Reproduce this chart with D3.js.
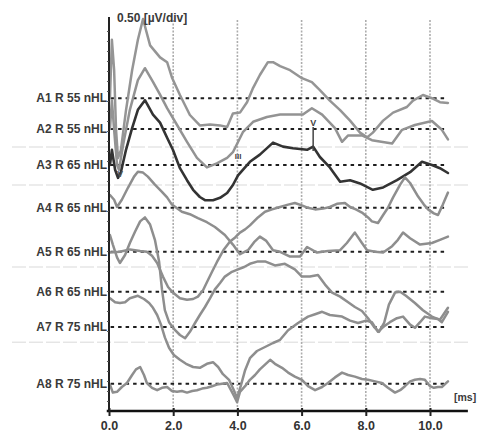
<!DOCTYPE html>
<html><head><meta charset="utf-8">
<script src="https://cdn.jsdelivr.net/npm/d3@7"></script>
<style>html,body{margin:0;padding:0;background:#fff;}svg{display:block;}</style>
</head><body>
<div id="chart"></div>
<script>
// ---- data (time in ms, amplitude in µV relative to each trace baseline) ----
const traceNames = ["A1 R 55 nHL","A2 R 55 nHL","A3 R 65 nHL","A4 R 65 nHL","A5 R 65 nHL","A6 R 65 nHL","A7 R 75 nHL","A8 R 75 nHL"];
const traceOffsets = [3.91, 3.525, 3.075, 2.54, 1.99, 1.49, 1.05, 0.34]; // µV baseline of each trace
const xTicks = [0, 2, 4, 6, 8, 10];
const scaleLabel = "0.50 [µV/div]";
const unitLabel = "[ms]";

const a1Times = [0.03,0.09,0.16,0.22,0.28,0.37,0.53,0.72,0.90,1.06,1.28,1.59,1.81,1.96,2.21,2.52,2.83,3.15,3.46,3.68,3.86,4.08,4.30,4.49,4.70,4.95,5.11,5.33,5.64,6.01,6.32,6.57,6.88,7.20,7.51,7.82,8.04,8.22,8.54,8.85,9.28,9.47,9.78,10.06,10.31,10.56];
const a1Values = [0,0.73,0.35,-0.40,-0.75,-0.65,-0.15,0.35,0.73,0.99,0.66,0.51,0.45,0.26,0.04,-0.21,-0.34,-0.33,-0.34,-0.36,-0.19,-0.18,-0.05,0.13,0.29,0.45,0.45,0.40,0.35,0.25,0.20,0.10,-0.03,-0.15,-0.28,-0.43,-0.49,-0.43,-0.28,-0.18,-0.11,-0.03,0.04,0,-0.05,-0.06];

const a2Times = [0.03,0.09,0.16,0.25,0.31,0.44,0.65,0.90,1.12,1.37,1.59,1.81,2.12,2.43,2.74,3.05,3.36,3.68,3.86,4.17,4.49,4.92,5.33,5.79,6.04,6.32,6.64,7.04,7.26,7.45,7.88,8.19,8.82,9.13,9.53,10.06,10.37,10.56];
const a2Values = [0,0.36,-0.01,-0.45,-0.51,-0.20,0.24,0.61,0.76,0.59,0.43,0.26,0.05,-0.16,-0.36,-0.48,-0.43,-0.36,-0.29,-0.04,0.09,0.15,0.18,0.18,0.18,0.26,0.18,0.01,-0.16,-0.08,-0.08,-0.14,-0.18,-0.01,0.05,0.10,-0.01,-0.13];

const a3Times = [0.03,0.09,0.19,0.28,0.37,0.53,0.72,0.90,1.12,1.37,1.59,1.81,1.99,2.21,2.43,2.62,2.83,2.99,3.24,3.46,3.68,3.86,4.02,4.17,4.39,4.70,5.11,5.42,5.73,6.17,6.36,6.57,6.88,7.20,7.51,7.82,8.22,8.54,8.97,9.38,9.75,10.06,10.31,10.56];
const a3Values = [0,0.19,-0.06,-0.16,-0.09,0.19,0.46,0.69,0.81,0.63,0.53,0.34,0.19,-0.04,-0.19,-0.31,-0.40,-0.44,-0.44,-0.41,-0.35,-0.25,-0.13,-0.06,0.04,0.13,0.28,0.23,0.21,0.19,0.23,0.10,-0.03,-0.21,-0.19,-0.23,-0.31,-0.28,-0.19,-0.09,0.04,0,-0.04,-0.10];

const a4Times = [0.03,0.16,0.25,0.40,0.59,0.78,0.90,1.06,1.21,1.43,1.65,1.81,1.96,2.27,2.52,2.77,3.05,3.30,3.61,3.86,4.08,4.33,4.52,4.70,4.89,5.11,5.33,5.64,5.95,6.17,6.48,6.82,7.20,7.41,7.66,7.88,8.04,8.29,8.54,8.82,9.00,9.16,9.38,9.69,10.06,10.31,10.56];
const a4Values = [0.16,0.10,0.01,0.10,0.25,0.39,0.45,0.44,0.39,0.29,0.20,0.13,0.04,-0.05,-0.08,-0.13,-0.18,-0.24,-0.34,-0.46,-0.58,-0.53,-0.43,-0.36,-0.41,-0.53,-0.55,-0.61,-0.61,-0.49,-0.56,-0.54,-0.53,-0.44,-0.31,-0.44,-0.53,-0.55,-0.56,-0.48,-0.40,-0.31,-0.38,-0.46,-0.44,-0.40,-0.36];

const a5Times = [0.03,0.34,0.65,0.97,1.18,1.34,1.50,1.68,1.84,1.99,2.21,2.43,2.62,2.77,2.93,3.05,3.21,3.36,3.58,3.77,3.93,4.08,4.24,4.39,4.64,4.86,5.08,5.33,5.58,5.79,6.01,6.20,6.42,6.67,6.88,7.10,7.35,7.51,7.69,7.88,8.07,8.19,8.38,8.54,8.69,8.85,9.07,9.22,9.38,9.63,9.81,9.94,10.12,10.25,10.40,10.56];
const a5Values = [-0.01,0,0.03,0.01,0,-0.05,-0.14,-0.31,-0.44,-0.51,-0.58,-0.60,-0.59,-0.56,-0.48,-0.38,-0.25,-0.13,0.03,0.13,0.18,0.24,0.28,0.33,0.43,0.50,0.53,0.56,0.59,0.61,0.58,0.55,0.53,0.54,0.56,0.60,0.61,0.56,0.53,0.49,0.43,0.38,0.36,0.46,0.55,0.68,0.84,0.93,0.86,0.69,0.59,0.53,0.48,0.46,0.59,0.74];

const a6Times = [0.03,0.12,0.25,0.34,0.50,0.65,0.81,0.97,1.12,1.28,1.43,1.56,1.65,1.74,1.87,2.06,2.21,2.37,2.52,2.68,2.83,2.99,3.15,3.30,3.46,3.61,3.83,4.02,4.21,4.39,4.64,4.86,5.17,5.48,5.79,6.01,6.26,6.51,6.73,6.95,7.20,7.45,7.66,7.88,8.07,8.26,8.41,8.57,8.72,8.91,9.07,9.25,9.53,9.78,10.06,10.31,10.56];
const a6Values = [0.71,0.59,0.43,0.36,0.46,0.61,0.75,0.88,0.93,0.84,0.65,0.38,0.03,-0.23,-0.38,-0.48,-0.54,-0.58,-0.50,-0.39,-0.29,-0.19,-0.08,0.03,0.11,0.19,0.25,0.28,0.31,0.35,0.38,0.38,0.33,0.35,0.28,0.19,0.19,0.21,0.09,-0.01,-0.06,-0.13,-0.19,-0.24,-0.33,-0.44,-0.50,-0.39,-0.16,-0.01,0,-0.05,-0.14,-0.23,-0.31,-0.35,-0.20];

const a7Times = [0.03,0.19,0.34,0.50,0.65,0.90,1.09,1.25,1.37,1.50,1.62,1.74,1.87,2.02,2.21,2.40,2.62,2.83,3.05,3.24,3.40,3.55,3.74,3.89,3.99,4.11,4.24,4.39,4.61,4.86,5.11,5.33,5.58,5.89,6.20,6.42,6.64,6.88,7.26,7.51,7.76,8.01,8.19,8.38,8.54,8.75,8.97,9.16,9.38,9.53,9.69,9.84,10.06,10.25,10.37,10.56];
const a7Values = [0.36,0.31,0.30,0.31,0.36,0.39,0.35,0.30,0.24,0.15,0.03,-0.13,-0.26,-0.35,-0.41,-0.46,-0.50,-0.51,-0.46,-0.44,-0.50,-0.59,-0.66,-0.79,-0.89,-0.73,-0.54,-0.39,-0.30,-0.25,-0.20,-0.16,-0.04,0.05,0.13,0.16,0.19,0.15,0.13,0.08,0.05,0.08,0.06,-0.06,0,0.06,0.11,0.13,0.03,-0.01,0.06,0.13,0.11,0.10,0.06,0.19];

const a8Times = [0.03,0.12,0.25,0.40,0.56,0.72,0.84,0.97,1.09,1.18,1.34,1.50,1.65,1.81,1.96,2.12,2.27,2.43,2.59,2.74,2.90,3.05,3.21,3.36,3.52,3.68,3.80,3.89,3.99,4.08,4.24,4.39,4.55,4.70,4.86,5.02,5.17,5.39,5.58,5.79,6.01,6.20,6.42,6.64,6.82,7.04,7.26,7.45,7.66,7.88,8.07,8.29,8.50,8.69,8.91,9.07,9.22,9.38,9.53,9.69,9.84,10.00,10.12,10.25,10.37,10.56];
const a8Values = [-0.01,-0.11,-0.10,-0.04,0.01,0.11,0.18,0.21,0.11,0.01,-0.05,-0.08,-0.05,-0.04,-0.09,-0.10,-0.09,-0.11,-0.09,-0.08,-0.06,-0.05,-0.03,-0.01,0,0.01,-0.08,-0.15,-0.23,-0.10,-0.03,0.05,0.11,0.18,0.24,0.30,0.25,0.20,0.14,0.09,0.05,-0.03,-0.08,-0.04,0.01,0.08,0.14,0.11,0.09,0.06,0.05,0.03,0.01,-0.05,-0.11,-0.08,-0.03,0.03,0.05,0.06,0.05,-0.03,-0.05,-0.04,-0.04,0.03];

const traceTimes = [a1Times,a2Times,a3Times,a4Times,a5Times,a6Times,a7Times,a8Times];
const traceValues = [a1Values,a2Values,a3Values,a4Values,a5Values,a6Values,a7Values,a8Values];
const traceColors = ["#959595","#939393","#333333","#8e8e8e","#8e8e8e","#8e8e8e","#8e8e8e","#8e8e8e"];
const faintLevels = [3.3, 2.825, 1.8, 0.86]; // faint scan lines (µV positions)

// ---- drawing ----
const W = 480, H = 437;
const svg = d3.select("#chart").append("svg").attr("width", W).attr("height", H)
  .style("font-family", "'Liberation Sans', Arial, sans-serif");
svg.append("rect").attr("width", W).attr("height", H).attr("fill", "#fff");

const x = d3.scaleLinear().domain([0, 10]).range([109, 430]);
const y = d3.scaleLinear().domain([0, 4.9]).range([411, 19]);
const ampPerUnit = y(0) - y(1); // px per µV

// faint scan lines
svg.append("g").selectAll("line").data(faintLevels).join("line")
  .attr("x1", 12).attr("x2", 470)
  .attr("y1", d => y(d)).attr("y2", d => y(d))
  .attr("stroke", "#d9d9d9").attr("stroke-width", 1).attr("stroke-dasharray", "14,3");

// vertical grid
svg.append("g").selectAll("line").data(xTicks.slice(1)).join("line")
  .attr("x1", d => x(d)).attr("x2", d => x(d))
  .attr("y1", 20).attr("y2", y(0))
  .attr("stroke", "#adadad").attr("stroke-width", 1.6).attr("stroke-dasharray", "2,1.5");

// baselines (dashed)
svg.append("g").selectAll("line").data(traceOffsets).join("line")
  .attr("x1", x(0.05)).attr("x2", x(10.56))
  .attr("y1", d => y(d)).attr("y2", d => y(d))
  .attr("stroke", "#1e1e1e").attr("stroke-width", 2).attr("stroke-dasharray", "3.5,4");

// traces
const line = d3.line().curve(d3.curveLinear);
traceTimes.forEach((times, i) => {
  const pts = times.map((t, j) => [x(t), y(traceOffsets[i]) - traceValues[i][j] * ampPerUnit]);
  svg.append("path").attr("d", line(pts))
    .attr("fill", "none").attr("stroke", traceColors[i])
    .attr("stroke-width", i === 2 ? 2.6 : 2.5)
    .attr("stroke-linejoin", "round").attr("stroke-linecap", "round");
});

// peak markers
svg.append("text").attr("x", x(4.02)).attr("y", y(traceOffsets[2]) - 6)
  .attr("font-size", 8).attr("font-weight", "bold").attr("fill", "#444").attr("text-anchor", "middle").text("III");
svg.append("text").attr("x", x(6.36)).attr("y", y(traceOffsets[1]) - 3)
  .attr("font-size", 9).attr("font-weight", "bold").attr("fill", "#444").attr("text-anchor", "middle").text("V");
svg.append("line").attr("x1", x(6.36)).attr("x2", x(6.36))
  .attr("y1", y(traceOffsets[1]) - 2).attr("y2", y(traceOffsets[2]) - 14)
  .attr("stroke", "#444").attr("stroke-width", 1.5);
svg.append("text").attr("x", x(0.34)).attr("y", y(traceOffsets[2]) + 12)
  .attr("font-size", 9).attr("font-weight", "bold").attr("fill", "#555").attr("text-anchor", "middle").text("V");

// y axis (no labels)
const yAxis = d3.axisLeft(y).tickValues(d3.range(0.125, 4.8, 0.125)).tickSize(2).tickFormat("");
const gy = svg.append("g").attr("transform", `translate(${x(0)},0)`).call(yAxis);
gy.select(".domain").attr("stroke", "#222").attr("stroke-width", 2);
gy.selectAll(".tick line").attr("stroke", "#555");
gy.select(".domain").attr("d", `M0,${y(4.9) - 2}V${y(0)}`);

// x axis
const xAxis = d3.axisBottom(x).tickValues(xTicks).tickSize(5).tickFormat(d3.format(".1f"));
const gx = svg.append("g").attr("transform", `translate(0,${y(0)})`).call(xAxis);
gx.select(".domain").attr("d", `M${x(-0.07)},0H${x(11.18)}`).attr("stroke", "#111").attr("stroke-width", 2.5);
gx.selectAll(".tick line").attr("stroke", "#222").attr("stroke-width", 2).attr("y1", -3);
gx.selectAll(".tick text").attr("font-size", 12.5).attr("font-weight", "bold").attr("fill", "#333")
  .attr("dy", "0.85em").style("font-family", "'Liberation Sans', Arial, sans-serif");

// trace labels
svg.append("g").selectAll("text").data(traceNames).join("text")
  .attr("x", 107).attr("y", (d, i) => y(traceOffsets[i]) + 4)
  .attr("text-anchor", "end").attr("font-size", 12).attr("font-weight", "bold")
  .attr("fill", "#3a3a3a").text(d => d);

// scale label and unit
svg.append("text").attr("x", 117).attr("y", 22).attr("font-size", 12).attr("font-weight", "bold")
  .attr("fill", "#3a3a3a").text(scaleLabel);
svg.append("text").attr("x", 454).attr("y", 401).attr("font-size", 10.5).attr("font-weight", "bold")
  .attr("fill", "#3a3a3a").text(unitLabel);
</script>
</body></html>
